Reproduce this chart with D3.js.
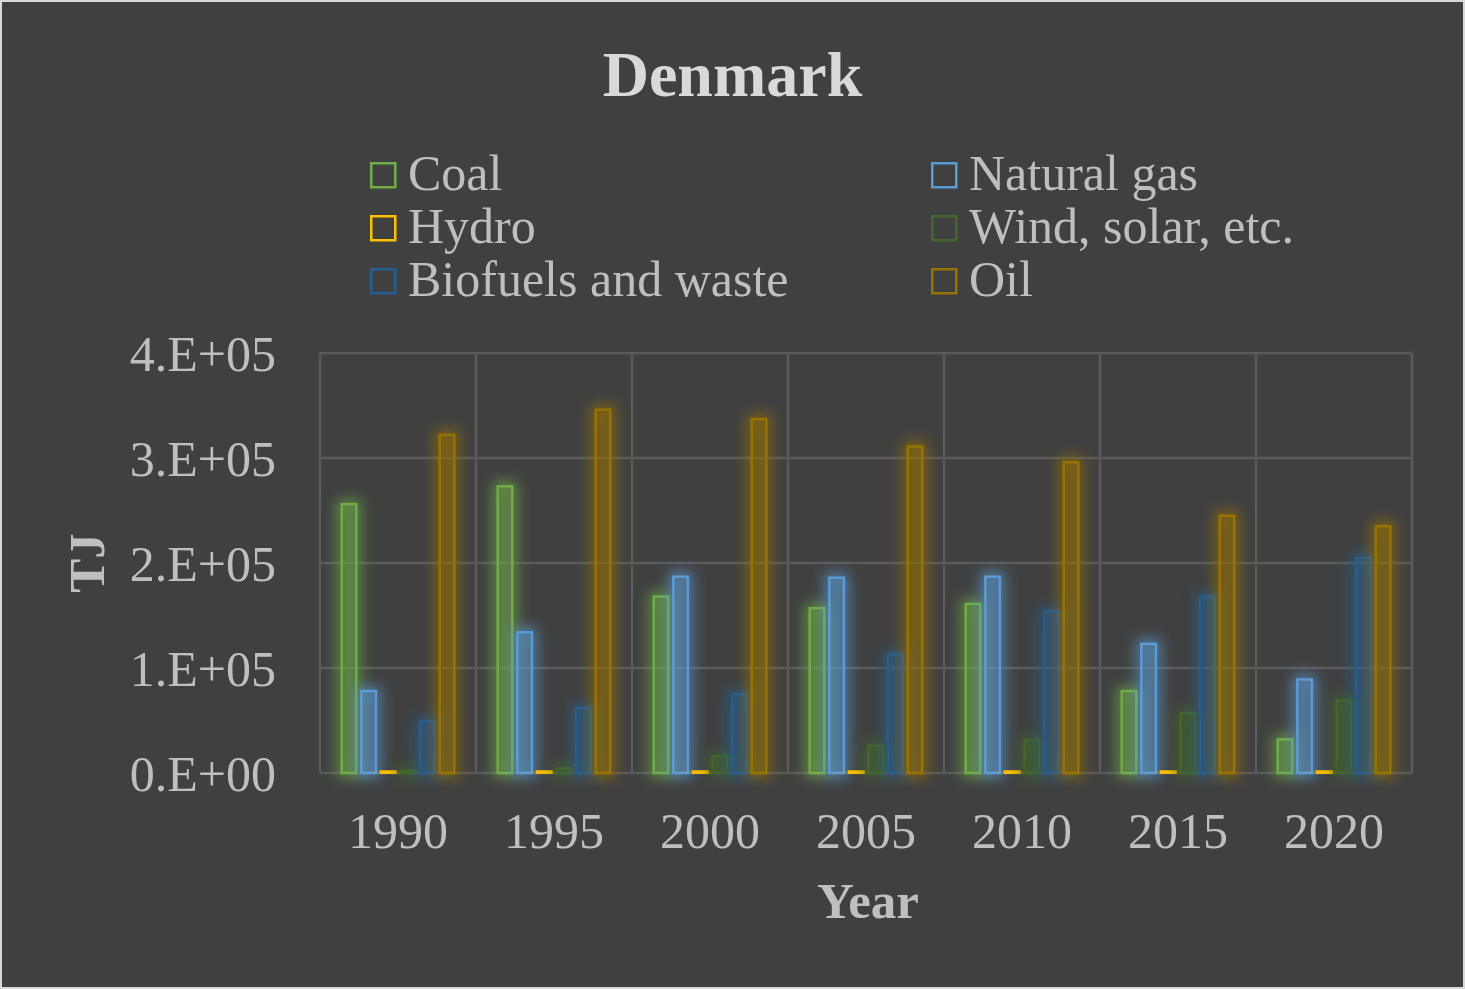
<!DOCTYPE html>
<html>
<head>
<meta charset="utf-8">
<script src="https://cdn.jsdelivr.net/npm/d3@7"></script>
<style>
  html, body { margin: 0; padding: 0; background: #404040; }
  svg text { font-family: "Liberation Serif", "Times New Roman", serif; }
</style>
</head>
<body>
<div id="chart"></div>
<script>
// chart data (TJ)
const years = ["1990", "1995", "2000", "2005", "2010", "2015", "2020"];
const seriesNames = ["Coal", "Natural gas", "Hydro", "Wind, solar, etc.", "Biofuels and waste", "Oil"];
const seriesColors = ["#70AD47", "#5B9BD5", "#FFC000", "#43682B", "#255E91", "#997300"];

const coal = [256000, 273000, 168000, 157000, 161000, 78000, 32000];
const naturalGas = [78000, 134000, 187000, 186000, 187000, 123000, 89000];
const hydro = [1400, 1400, 1400, 1400, 1400, 1400, 1400];
const wind = [2200, 4400, 16000, 26000, 31000, 57000, 69000];
const biofuels = [49500, 62000, 75000, 113000, 154000, 168000, 205000];
const oil = [322000, 346000, 337000, 311000, 296000, 245000, 235000];

const yTicks = [0, 100000, 200000, 300000, 400000];
const yTickLabels = ["0.E+00", "1.E+05", "2.E+05", "3.E+05", "4.E+05"];

const allSeries = [coal, naturalGas, hydro, wind, biofuels, oil];

const W = 1465, H = 989;
const margin = {top: 353, right: 53, bottom: 216, left: 320};
const width = W - margin.left - margin.right;
const height = H - margin.top - margin.bottom;

const svg = d3.select("#chart").append("svg")
    .attr("width", W)
    .attr("height", H);

// background + outer border
svg.append("rect")
    .attr("x", 1).attr("y", 1)
    .attr("width", W - 2).attr("height", H - 2)
    .attr("fill", "#404040")
    .attr("stroke", "#d9d9d9")
    .attr("stroke-width", 2);

// glow filters, one per series
const defs = svg.append("defs");
seriesColors.forEach((c, i) => {
    const f = defs.append("filter")
        .attr("id", "glow" + i)
        .attr("x", "-150%").attr("y", "-50%")
        .attr("width", "400%").attr("height", "200%");
    f.append("feMorphology").attr("in", "SourceAlpha").attr("operator", "dilate").attr("radius", 3).attr("result", "grown");
    f.append("feGaussianBlur").attr("in", "grown").attr("stdDeviation", 7).attr("result", "blur");
    f.append("feFlood").attr("flood-color", c).attr("flood-opacity", 0.8).attr("result", "col");
    f.append("feComposite").attr("in", "col").attr("in2", "blur").attr("operator", "in").attr("result", "halo");
    const m = f.append("feMerge");
    m.append("feMergeNode").attr("in", "halo");
    m.append("feMergeNode").attr("in", "SourceGraphic");
});

// title
svg.append("text")
    .attr("x", W / 2)
    .attr("y", 96)
    .attr("text-anchor", "middle")
    .attr("font-size", 64)
    .attr("font-weight", "bold")
    .attr("fill", "#d9d9d9")
    .text("Denmark");

// legend
const legendCols = [370, 931];
const legendRows = [162, 215, 268];
seriesNames.forEach((name, i) => {
    const lx = legendCols[i % 2];
    const ly = legendRows[Math.floor(i / 2)];
    const g = svg.append("g").attr("transform", `translate(${lx},${ly})`);
    g.append("rect")
        .attr("x", 1.25).attr("y", 1.25)
        .attr("width", 24).attr("height", 24)
        .attr("fill", "none")
        .attr("stroke", seriesColors[i])
        .attr("stroke-width", 2.5);
    g.append("text")
        .attr("x", 38)
        .attr("y", 28)
        .attr("font-size", 50)
        .attr("fill", "#bfbfbf")
        .text(name);
});

const plot = svg.append("g")
    .attr("transform", `translate(${margin.left},${margin.top})`);

// scales
const x0 = d3.scaleBand().domain(years).range([0, width]).padding(0);
const x1 = d3.scaleBand().domain(d3.range(seriesNames.length))
    .range([0, x0.bandwidth()])
    .paddingInner(0.26)
    .paddingOuter(1.11);
const y = d3.scaleLinear().domain([0, 400000]).range([height, 0]);

// gridlines
plot.append("g")
    .selectAll("line")
    .data(yTicks)
    .join("line")
    .attr("x1", 0).attr("x2", width)
    .attr("y1", d => y(d)).attr("y2", d => y(d))
    .attr("stroke", "#5a5a5a")
    .attr("stroke-width", 2.5);

plot.append("g")
    .selectAll("line")
    .data(years.concat(["end"]))
    .join("line")
    .attr("x1", (d, i) => i * x0.step())
    .attr("x2", (d, i) => i * x0.step())
    .attr("y1", 0).attr("y2", height)
    .attr("stroke", "#5a5a5a")
    .attr("stroke-width", 2.5);

// y axis labels
const yAxis = plot.append("g")
    .attr("transform", "translate(-44,0)")
    .call(d3.axisLeft(y).tickValues(yTicks).tickSize(0).tickFormat((d, i) => yTickLabels[i]));
yAxis.select(".domain").remove();
yAxis.selectAll("text")
    .attr("font-family", "Liberation Serif, Times New Roman, serif")
    .attr("font-size", 50)
    .attr("fill", "#bfbfbf")
    .attr("dy", "0.34em")
    .attr("x", 0);

// x axis labels
const xAxis = plot.append("g")
    .attr("transform", `translate(0,${height})`)
    .call(d3.axisBottom(x0).tickSize(0));
xAxis.select(".domain").remove();
xAxis.selectAll("text")
    .attr("font-family", "Liberation Serif, Times New Roman, serif")
    .attr("font-size", 50)
    .attr("fill", "#bfbfbf")
    .attr("dy", 0)
    .attr("y", 75);

// axis titles
svg.append("text")
    .attr("x", margin.left + width / 2 + 2)
    .attr("y", 918)
    .attr("text-anchor", "middle")
    .attr("font-size", 51)
    .attr("font-weight", "bold")
    .attr("fill", "#bfbfbf")
    .text("Year");

svg.append("text")
    .attr("transform", "translate(104,563) rotate(-90)")
    .attr("text-anchor", "middle")
    .attr("font-size", 51)
    .attr("font-weight", "bold")
    .attr("fill", "#bfbfbf")
    .text("TJ");

// bars
const barData = [];
years.forEach((yr, yi) => {
    allSeries.forEach((s, si) => {
        barData.push({year: yr, series: si, value: s[yi]});
    });
});

const barGroups = plot.append("g")
    .selectAll("g")
    .data(d3.range(seriesNames.length))
    .join("g")
    .attr("filter", d => `url(#glow${d})`);

barGroups.selectAll("rect")
    .data(si => barData.filter(d => d.series === si))
    .join("rect")
    .attr("x", d => x0(d.year) + x1(d.series))
    .attr("width", x1.bandwidth())
    .attr("y", d => y(d.value))
    .attr("height", d => height - y(d.value))
    .attr("fill", d => seriesColors[d.series])
    .attr("fill-opacity", 0.15)
    .attr("stroke", d => seriesColors[d.series])
    .attr("stroke-width", 2.5);
</script>
</body>
</html>
